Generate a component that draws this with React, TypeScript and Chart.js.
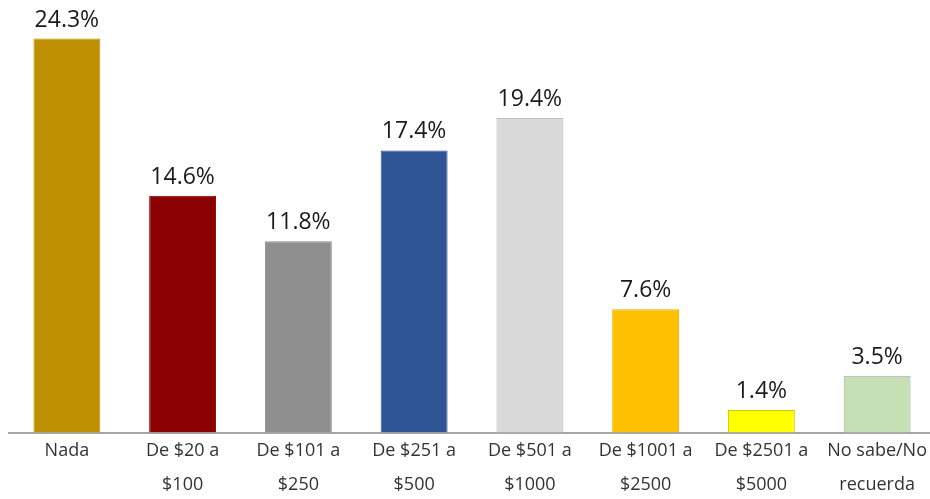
import React, { useEffect, useRef } from "react";
import { Chart, registerables } from "chart.js";

Chart.register(...registerables);

const categories: string[][] = [
  ["Nada"],
  ["De $20 a", "$100"],
  ["De $101 a", "$250"],
  ["De $251 a", "$500"],
  ["De $501 a", "$1000"],
  ["De $1001 a", "$2500"],
  ["De $2501 a", "$5000"],
  ["No sabe/No", "recuerda"],
];
const values: number[] = [24.3, 14.6, 11.8, 17.4, 19.4, 7.6, 1.4, 3.5];
const barColors: string[] = [
  "#BF9000",
  "#8B0000",
  "#8F8F8F",
  "#2F5597",
  "#D9D9D9",
  "#FFC000",
  "#FFFF00",
  "#C5E0B4",
];
const barBorders: string[] = [
  "#BF9000",
  "#8B0000",
  "#8F8F8F",
  "#2F5597",
  "#BFBFBF",
  "#E6AD00",
  "#C8C800",
  "#A6A6A6",
];

const valueLabels = {
  id: "valueLabels",
  afterDatasetsDraw(chart: any) {
    const ctx = chart.ctx;
    const meta = chart.getDatasetMeta(0);
    ctx.save();
    ctx.font = "23px 'Open Sans'";
    ctx.fillStyle = "#1A1A1A";
    ctx.textAlign = "center";
    ctx.textBaseline = "alphabetic";
    meta.data.forEach((bar: any, i: number) => {
      ctx.fillText(values[i].toFixed(1) + "%", bar.x, bar.y - 12);
    });
    ctx.restore();
  },
};

export default function App() {
  const ref = useRef<HTMLCanvasElement | null>(null);
  useEffect(() => {
    document.body.style.margin = "0";
    document.body.style.overflow = "hidden";
    document.documentElement.style.overflow = "hidden";
    if (!ref.current) return;
    const chart = new Chart(ref.current, {
      type: "bar",
      data: {
        labels: categories,
        datasets: [
          {
            data: values,
            backgroundColor: barColors,
            borderColor: barBorders,
            borderWidth: 1,
            barPercentage: 0.578,
            categoryPercentage: 1,
          },
        ],
      },
      options: {
        responsive: false,
        animation: false,
        layout: { padding: { top: 11, left: 9, right: 5, bottom: -4 } },
        plugins: {
          legend: { display: false },
          tooltip: { enabled: false },
          title: { display: false },
        },
        scales: {
          y: { display: false, min: 0, max: 26 },
          x: {
            grid: { display: false, drawTicks: false },
            border: { display: true, color: "#A6A6A6", width: 2 },
            ticks: {
              color: "#333333",
              font: { family: "'Open Sans'", size: 18, lineHeight: 1.9 },
              padding: 1,
              maxRotation: 0,
              autoSkip: false,
            },
          },
        },
      },
      plugins: [valueLabels],
    });
    return () => chart.destroy();
  }, []);
  return (
    <div
      style={{
        position: "fixed",
        left: 0,
        top: 0,
        width: 930,
        height: 499,
        overflow: "hidden",
        background: "#FFFFFF",
      }}
    >
      <canvas ref={ref} width={940} height={499} style={{ display: "block" }} />
    </div>
  );
}
